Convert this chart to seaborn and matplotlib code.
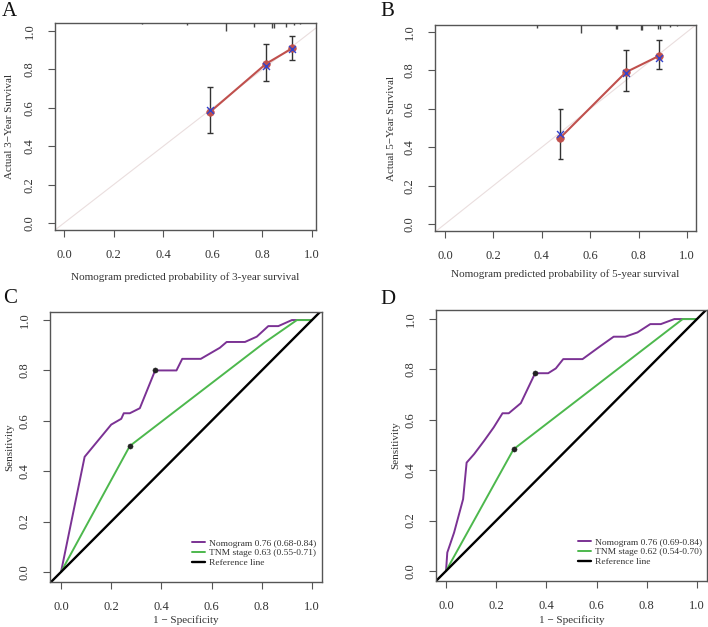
import numpy as np
import pandas as pd
import matplotlib
matplotlib.use("Agg")
import matplotlib.pyplot as plt
import seaborn as sns

# ---------------- data ----------------
# Calibration A (3-year)
cal3_pred = [0.59, 0.815, 0.92]
cal3_obs = [0.58, 0.83, 0.91]
cal3_lo = [0.47, 0.74, 0.85]
cal3_hi = [0.71, 0.935, 0.975]
cal3_ideal = [0.59, 0.82, 0.905]
rug3_x = [0.315, 0.496, 0.653, 0.766, 0.84, 0.846, 0.895, 0.927, 0.952]
rug3_len = [0.15, 0.25, 1.0, 0.55, 0.6, 0.6, 0.5, 0.3, 0.15]

# Calibration B (5-year)
cal5_pred = [0.477, 0.747, 0.884]
cal5_obs = [0.45, 0.79, 0.875]
cal5_lo = [0.34, 0.69, 0.805]
cal5_hi = [0.60, 0.905, 0.96]
cal5_ideal = [0.47, 0.785, 0.865]
rug5_x = [0.38, 0.56, 0.705, 0.712, 0.808, 0.816, 0.882, 0.888, 0.93, 0.96]
rug5_len = [0.35, 1.0, 0.45, 0.45, 0.65, 0.65, 0.55, 0.55, 0.3, 0.15]

# ROC C (3-year)
rocC_nom_fpr = [0, 0.094, 0.20, 0.24, 0.25, 0.274, 0.314, 0.375, 0.46, 0.483, 0.557,
                0.633, 0.66, 0.733, 0.78, 0.826, 0.866, 0.92, 1.0]
rocC_nom_tpr = [0, 0.457, 0.585, 0.608, 0.63, 0.63, 0.65, 0.80, 0.80, 0.846, 0.846,
                0.89, 0.913, 0.913, 0.934, 0.976, 0.976, 1.0, 1.0]
rocC_tnm_fpr = [0, 0.274, 0.81, 0.94, 1.0]
rocC_tnm_tpr = [0, 0.50, 0.91, 1.0, 1.0]
rocC_best = [(0.375, 0.80), (0.274, 0.50)]

# ROC D (5-year)
rocD_nom_fpr = [0, 0.005, 0.032, 0.068, 0.082, 0.112, 0.152, 0.19, 0.225, 0.25, 0.298,
                0.355, 0.407, 0.4375, 0.467, 0.544, 0.617, 0.668, 0.714, 0.763, 0.814,
                0.856, 0.91, 1.0]
rocD_nom_tpr = [0, 0.073, 0.152, 0.285, 0.43, 0.464, 0.517, 0.57, 0.626, 0.626, 0.666,
                0.785, 0.785, 0.804, 0.841, 0.841, 0.894, 0.93, 0.93, 0.947, 0.98,
                0.98, 1.0, 1.0]
rocD_tnm_fpr = [0, 0.269, 0.943, 1.0]
rocD_tnm_tpr = [0, 0.483, 1.0, 1.0]
rocD_best = [(0.355, 0.785), (0.269, 0.483)]

legC = ["Nomogram 0.76 (0.68-0.84)", "TNM stage 0.63 (0.55-0.71)", "Reference line"]
legD = ["Nomogram 0.76 (0.69-0.84)", "TNM stage 0.62 (0.54-0.70)", "Reference line"]
ticks = [0.0, 0.2, 0.4, 0.6, 0.8, 1.0]
tick_labels = ["0.0", "0.2", "0.4", "0.6", "0.8", "1.0"]

# ---------------- style ----------------
sns.set_style("ticks")
plt.rcParams["font.family"] = ["Liberation Serif", "DejaVu Serif"]
plt.rcParams["axes.edgecolor"] = "#555555"
plt.rcParams["xtick.color"] = "#555555"
plt.rcParams["ytick.color"] = "#555555"
plt.rcParams["axes.linewidth"] = 1.0

W, H = 708, 627
fig = plt.figure(figsize=(W / 100, H / 100), dpi=100)

def axes_px(left, top, right, bottom):
    ax = fig.add_axes([left / W, 1 - bottom / H, (right - left) / W, (bottom - top) / H])
    ax._px = (left, top, right, bottom)
    return ax

TXT = "#333333"
RED = "#C0504D"
PURPLE = "#7B3294"
GREEN = "#4DB84D"

def style_axes(ax, xlim, ylim, xlabel, ylabel, xlab_y_px, ylab_x_px):
    left, top, right, bottom = ax._px
    ax.set_xlim(*xlim)
    ax.set_ylim(*ylim)
    ax.set_xticks(ticks)
    ax.set_xticklabels(tick_labels, fontsize=9, color=TXT)
    ax.set_yticks(ticks)
    ax.set_yticklabels(tick_labels, fontsize=9, color=TXT, rotation=90, va="center")
    ax.tick_params(direction="out", length=5, width=0.8, pad=9)
    ax.set_xlabel(xlabel, fontsize=8, color=TXT, va="center")
    ax.set_ylabel(ylabel, fontsize=8, color=TXT, va="center")
    ax.xaxis.set_label_coords(0.5, -(xlab_y_px - bottom) / (bottom - top))
    ax.yaxis.set_label_coords(-(left - ylab_x_px) / (right - left), 0.5)
    for s in ax.spines.values():
        s.set_visible(True)

def calib(ax, pred, obs, lo, hi, ideal, rx, rl, xlabel, ylabel, xlim, ylim, xl, yl):
    ax.plot([-0.1, 1.1], [-0.1, 1.1], color="#eadede", lw=0.8, zorder=1)
    df = pd.DataFrame({"x": pred, "y": obs})
    sns.lineplot(data=df, x="x", y="y", ax=ax, color=RED, lw=1.5, sort=False,
                 estimator=None, zorder=3)
    ax.vlines(pred, lo, hi, color="#333333", lw=1.0, zorder=4)
    ax.hlines(lo, np.array(pred) - 0.012, np.array(pred) + 0.012, color="#333333", lw=1.0, zorder=4)
    ax.hlines(hi, np.array(pred) - 0.012, np.array(pred) + 0.012, color="#333333", lw=1.0, zorder=4)
    sns.scatterplot(x=pred, y=obs, ax=ax, color=RED, s=30, edgecolor=RED, zorder=5)
    sns.scatterplot(x=pred, y=ideal, ax=ax, color="#3344CC", marker="x", s=25,
                    linewidth=1.0, zorder=6)
    top = ylim[1]
    for x, l in zip(rx, rl):
        ax.vlines(x, top - 0.042 * l, top, color="#444444", lw=1.0, zorder=7)
    style_axes(ax, xlim, ylim, xlabel, ylabel, xl, yl)

def roc(ax, nf, nt, tf, tt, best, leg, xlim, ylim, xl, yl, legx):
    sns.lineplot(x=nf, y=nt, ax=ax, color=PURPLE, lw=1.4, sort=False, estimator=None,
                 label=leg[0])
    sns.lineplot(x=tf, y=tt, ax=ax, color=GREEN, lw=1.4, sort=False, estimator=None,
                 label=leg[1])
    sns.lineplot(x=[-0.1, 1.1], y=[-0.1, 1.1], ax=ax, color="black", lw=1.7,
                 sort=False, estimator=None, label=leg[2])
    bx = [b[0] for b in best]
    by = [b[1] for b in best]
    sns.scatterplot(x=bx, y=by, ax=ax, color="#222222", s=14, edgecolor="#222222", zorder=6)
    style_axes(ax, xlim, ylim, "1 \u2212 Specificity", "Sensitivity", xl, yl)
    leg_ = ax.legend(loc="lower left", frameon=False, fontsize=6.8, handlelength=1.4,
                     handletextpad=0.45, labelspacing=0.12, borderaxespad=0, borderpad=0,
                     bbox_to_anchor=(legx, 0.055))
    for t in leg_.get_texts():
        t.set_color(TXT)

axA = axes_px(55, 23, 316, 230)
calib(axA, cal3_pred, cal3_obs, cal3_lo, cal3_hi, cal3_ideal, rug3_x, rug3_len,
      "Nomogram predicted probability of 3-year survival", "Actual 3\u2212Year Survival",
      (-0.036, 1.016), (-0.036, 1.042), 277, 9)

axB = axes_px(435, 25, 696, 231)
calib(axB, cal5_pred, cal5_obs, cal5_lo, cal5_hi, cal5_ideal, rug5_x, rug5_len,
      "Nomogram predicted probability of 5-year survival", "Actual 5\u2212Year Survival",
      (-0.041, 1.037), (-0.036, 1.036), 274, 391)

axC = axes_px(50, 312, 322, 582)
roc(axC, rocC_nom_fpr, rocC_nom_tpr, rocC_tnm_fpr, rocC_tnm_tpr, rocC_best, legC,
    (-0.044, 1.04), (-0.04, 1.032), 620, 10, 0.522)

axD = axes_px(436, 310, 707, 581)
roc(axD, rocD_nom_fpr, rocD_nom_tpr, rocD_tnm_fpr, rocD_tnm_tpr, rocD_best, legD,
    (-0.04, 1.04), (-0.04, 1.036), 620, 396, 0.524)

for lab, x, y in [("A", 2, 2), ("B", 380, 2), ("C", 3, 289), ("D", 380, 290)]:
    fig.text(x / W, 1 - y / H, lab, fontsize=15, va="top", ha="left", color="#111111")

fig.savefig("out.png", dpi=100)
